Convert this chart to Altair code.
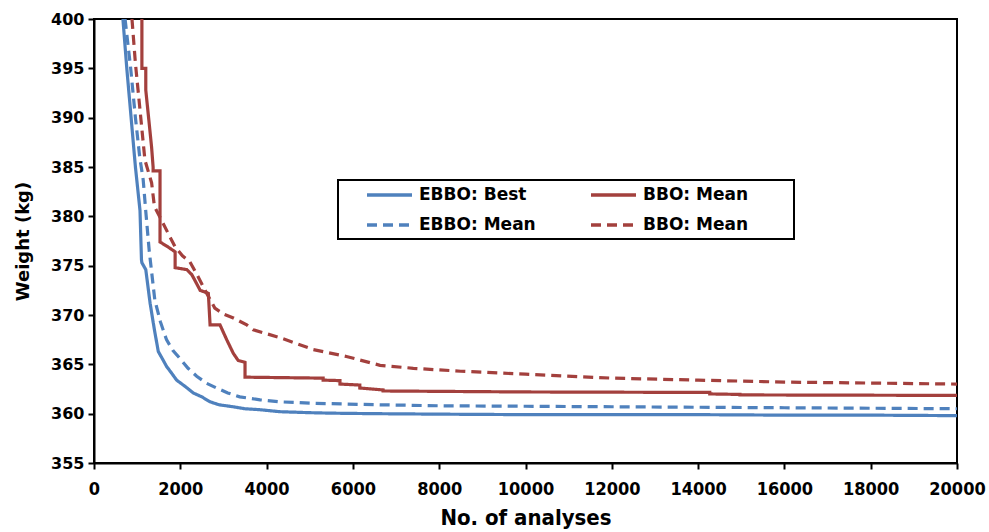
import altair as alt
import pandas as pd

# ---- data ----
ebbo_best_x = [670, 760, 860, 960, 1066, 1100, 1110, 1200, 1300, 1400, 1490, 1580, 1680, 1800, 1915, 2100,
               2300, 2500, 2690, 2900, 3220, 3500, 3850, 4300, 5000, 5500, 6500, 8000, 10000, 12000, 14000,
               16000, 18000, 20000]
ebbo_best_y = [400, 395, 390, 385, 380.6, 375.6, 375.3, 374.6, 371.2, 368.5, 366.3, 365.6, 364.8, 364.1, 363.4,
               362.8, 362.1, 361.7, 361.2, 360.9, 360.7, 360.5, 360.4, 360.2, 360.1, 360.05, 360.0, 359.95,
               359.9, 359.9, 359.9, 359.85, 359.85, 359.8]

ebbo_mean_x = [720, 850, 960, 1060, 1140, 1200, 1280, 1410, 1540, 1680, 1830, 1990, 2180, 2380, 2600, 2840,
               3100, 3380, 3850, 4310, 5080, 6630, 8000, 10000, 12000, 14000, 16000, 18000, 20000]
ebbo_mean_y = [400, 395, 390, 386, 383.7, 380.5, 376.5, 371.5, 369.3, 367.5, 366.4, 365.6, 364.6, 363.8,
               363.1, 362.6, 362.1, 361.7, 361.4, 361.2, 361.05, 360.9, 360.8, 360.75, 360.7, 360.65, 360.6,
               360.55, 360.5]

bbo_solid_x = [1110, 1110, 1200, 1200, 1270, 1335, 1370, 1370, 1530, 1530, 1715, 1880, 1880, 2150, 2265, 2340,
               2460, 2650, 2690, 2920, 3075, 3230, 3340, 3500, 3500, 5310, 5310, 5700, 5700, 6160, 6160, 6700,
               6700, 10000, 14270, 14270, 14970, 14970, 20000]
bbo_solid_y = [400, 395, 395, 392.8, 389.8, 387, 385, 384.6, 384.6, 377.4, 376.9, 376.4, 374.8, 374.6, 374.1,
               373.5, 372.5, 372.2, 369.0, 369.0, 367.5, 366.1, 365.4, 365.2, 363.7, 363.6, 363.4, 363.35, 363.0,
               362.9, 362.6, 362.4, 362.3, 362.2, 362.15, 362.0, 361.95, 361.9, 361.85]

bbo_dash_x = [880, 960, 1066, 1180, 1335, 1400, 1600, 1750, 1880, 2050, 2220, 2410, 2610, 2800, 3000, 3230,
              3540, 3690, 4310, 5080, 5850, 6630, 7400, 8500, 10000, 12000, 14000, 16000, 18000, 20000]
bbo_dash_y = [400, 395.5, 390.8, 385.7, 383.4, 381.0, 379.3, 378.0, 376.9, 376.0, 375.4, 373.9, 372.2, 370.7,
              370.1, 369.7, 369.0, 368.5, 367.7, 366.5, 365.8, 364.9, 364.6, 364.3, 364.0, 363.6, 363.4, 363.2,
              363.1, 363.0]

# legend fills column by column: EBBO entries in column 1, BBO entries in column 2
series_names = ["EBBO: Best", "EBBO: Mean", "BBO: Mean", "BBO: Mean "]
series_data = [(ebbo_best_x, ebbo_best_y), (ebbo_mean_x, ebbo_mean_y),
               (bbo_solid_x, bbo_solid_y), (bbo_dash_x, bbo_dash_y)]

x_ticks = list(range(0, 20001, 2000))
y_ticks = list(range(355, 401, 5))

rows = []
for name, (xs, ys) in zip(series_names, series_data):
    for i, (xv, yv) in enumerate(zip(xs, ys)):
        rows.append({"series": name, "x": xv, "y": yv, "i": i})
df = pd.DataFrame(rows)

BLUE = "#4F81BD"
RED = "#A3403D"
FONT = "DejaVu Sans"
XFONT = "DejaVu Sans Condensed, Liberation Sans Narrow, DejaVu Sans"

legend = alt.Legend(
    title=None, orient="none", legendX=271, legendY=166, columns=2,
    columnPadding=53, rowPadding=10, padding=0, clipHeight=20,
    symbolType="stroke", symbolSize=2025, symbolStrokeWidth=3.5,
    labelFont=FONT, labelFontSize=17, labelFontWeight="bold", labelColor="black",
    labelOffset=5, labelLimit=300,
)

lines = alt.Chart(df).mark_line(clip=True, strokeWidth=3.2).encode(
    x=alt.X("x:Q", scale=alt.Scale(domain=[0, 20000], nice=False),
            axis=alt.Axis(values=x_ticks, title="No. of analyses", format="d", labelFlush=False,
                          labelFont=XFONT, labelFontSize=18, titleFont=XFONT, titleFontSize=22,
                          labelPadding=11, titlePadding=9)),
    y=alt.Y("y:Q", scale=alt.Scale(domain=[355, 400], nice=False, zero=False),
            axis=alt.Axis(values=y_ticks, title="Weight (kg)", labelPadding=4, titlePadding=18)),
    color=alt.Color("series:N", scale=alt.Scale(domain=series_names, range=[BLUE, BLUE, RED, RED]),
                    legend=legend),
    strokeDash=alt.StrokeDash("series:N",
                              scale=alt.Scale(domain=series_names,
                                              range=[[1, 0], [10, 6], [1, 0], [10, 6]]),
                              legend=legend),
    order=alt.Order("i:Q"),
)

box = alt.Chart(alt.Data(values=[{}])).mark_rect(
    fill="white", stroke="black", strokeWidth=2
).encode(x=alt.value(244), x2=alt.value(700), y=alt.value(161), y2=alt.value(220))

chart = alt.layer(box, lines).properties(
    width=863, height=444,
    autosize=alt.AutoSizeParams(type="none"),
    padding={"left": 94, "top": 19, "right": 32, "bottom": 69},
    background="white",
).configure_view(
    stroke="black", strokeWidth=2
).configure_axis(
    grid=False, domainColor="black", domainWidth=2, tickColor="black", tickWidth=2, tickSize=6,
    labelFont=FONT, labelFontSize=16, labelFontWeight="bold", labelColor="black",
    titleFont=FONT, titleFontSize=18, titleFontWeight="bold", titleColor="black",
)

chart.save("out.html", embed_options={"renderer": "svg", "actions": False})
